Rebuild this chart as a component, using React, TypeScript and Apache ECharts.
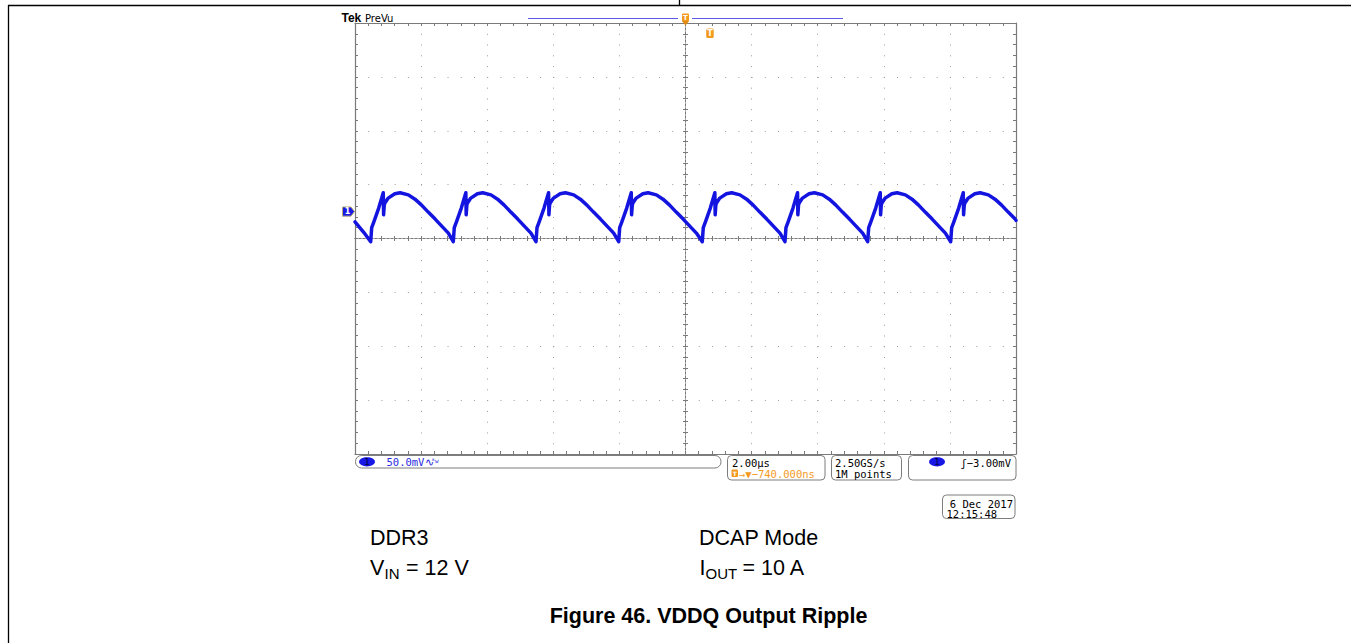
import React, { useEffect, useRef } from "react";
import * as echarts from "echarts";

// Time (µs, 2 µs/div, screen centre = 0) and VDDQ ripple (mV, 50 mV/div, screen centre = 0)
const timeUs: number[] = [
  -10, -9.73,
  -9.525, -9.495, -9.435, -9.285, -9.145, -9.135, -9.115, -9.095, -8.995, -8.795, -8.635, -8.385, -8.185, -7.985, -7.785, -7.575, -7.375, -7.175,
  -7.026, -6.996, -6.936, -6.786, -6.646, -6.636, -6.616, -6.596, -6.496, -6.296, -6.136, -5.886, -5.686, -5.486, -5.286, -5.076, -4.876, -4.676,
  -4.523, -4.493, -4.433, -4.283, -4.143, -4.133, -4.113, -4.093, -3.993, -3.793, -3.633, -3.383, -3.183, -2.983, -2.783, -2.573, -2.373, -2.173,
  -2.021, -1.991, -1.931, -1.781, -1.641, -1.631, -1.611, -1.591, -1.491, -1.291, -1.131, -0.881, -0.681, -0.481, -0.281, -0.071, 0.129, 0.329,
  0.508, 0.538, 0.598, 0.748, 0.888, 0.898, 0.918, 0.938, 1.038, 1.238, 1.398, 1.648, 1.848, 2.048, 2.248, 2.458, 2.658, 2.858,
  3.01, 3.04, 3.1, 3.25, 3.39, 3.4, 3.42, 3.44, 3.54, 3.74, 3.9, 4.15, 4.35, 4.55, 4.75, 4.96, 5.16, 5.36,
  5.513, 5.543, 5.603, 5.753, 5.893, 5.903, 5.923, 5.943, 6.043, 6.243, 6.403, 6.653, 6.853, 7.053, 7.253, 7.463, 7.663, 7.863,
  8.024, 8.054, 8.114, 8.264, 8.404, 8.414, 8.434, 8.454, 8.554, 8.754, 8.914, 9.164, 9.364, 9.564, 9.764, 9.974, 10,
];
const rippleMv: number[] = [
  15.5, 5.5,
  -3, 10, 15, 28, 42.5, 22, 31, 33, 37.5, 41.5, 42.5, 40.5, 36.5, 31, 24.5, 18, 11.5, 5,
  -3, 10, 15, 28, 42.5, 22, 31, 33, 37.5, 41.5, 42.5, 40.5, 36.5, 31, 24.5, 18, 11.5, 5,
  -3, 10, 15, 28, 42.5, 22, 31, 33, 37.5, 41.5, 42.5, 40.5, 36.5, 31, 24.5, 18, 11.5, 5,
  -3, 10, 15, 28, 42.5, 22, 31, 33, 37.5, 41.5, 42.5, 40.5, 36.5, 31, 24.5, 18, 11.5, 5,
  -3, 10, 15, 28, 42.5, 22, 31, 33, 37.5, 41.5, 42.5, 40.5, 36.5, 31, 24.5, 18, 11.5, 5,
  -3, 10, 15, 28, 42.5, 22, 31, 33, 37.5, 41.5, 42.5, 40.5, 36.5, 31, 24.5, 18, 11.5, 5,
  -3, 10, 15, 28, 42.5, 22, 31, 33, 37.5, 41.5, 42.5, 40.5, 36.5, 31, 24.5, 18, 11.5, 5,
  -3, 10, 15, 28, 42.5, 22, 31, 33, 37.5, 41.5, 42.5, 40.5, 36.5, 31, 24.5, 18, 16.8,
];

const xMin = -10;
const xMax = 10;
const xDiv = 2;
const yMin = -200;
const yMax = 200;
const yDiv = 50;
const ch1GroundMv = 25;

const scopeLabels = {
  brand: "Tek",
  mode: "PreVu",
  ch1Scale: "50.0mV",
  timebase: "2.00µs",
  trigPos: "→▼−740.000ns",
  sampleRate: "2.50GS/s",
  recordLen: "1M points",
  trigLevel: "ʃ−3.00mV",
  date: "6 Dec 2017",
  time: "12:15:48",
};

const G = { left: 355, top: 23, width: 661, height: 431 };
const AX = "#7a7a7a";
const DOT = "#9c9c9c";
const ORANGE = "#f39a1e";
const MONO = '10.5px "DejaVu Sans Mono"';
const SANS = '"Liberation Sans", Arial, sans-serif';

function borderX(position: string, withSplit: boolean) {
  return {
    type: "value",
    min: xMin,
    max: xMax,
    interval: xDiv,
    position,
    axisLabel: { show: false },
    axisLine: { show: true, onZero: false, lineStyle: { color: AX, width: 1.2 } },
    axisTick: { show: true, inside: true, length: 3, lineStyle: { color: AX } },
    minorTick: { show: true, splitNumber: 5, length: 3, lineStyle: { color: AX } },
    splitLine: {
      show: withSplit,
      lineStyle: { color: DOT, width: 1, type: [1, G.height / 8 / 5 - 1] },
    },
  };
}
function borderY(position: string, withSplit: boolean) {
  return {
    type: "value",
    min: yMin,
    max: yMax,
    interval: yDiv,
    position,
    axisLabel: { show: false },
    axisLine: { show: true, onZero: false, lineStyle: { color: AX, width: 1.2 } },
    axisTick: { show: true, inside: true, length: 3, lineStyle: { color: AX } },
    minorTick: { show: true, splitNumber: 5, length: 3, lineStyle: { color: AX } },
    splitLine: {
      show: withSplit,
      lineStyle: { color: DOT, width: 1, type: [1, G.width / 10 / 5 - 1] },
    },
  };
}
function centerX(position: string) {
  return {
    type: "value",
    min: xMin,
    max: xMax,
    interval: xDiv,
    position,
    axisLabel: { show: false },
    axisLine: { show: true, onZero: true, onZeroAxisIndex: 0, lineStyle: { color: AX, width: 1, type: [2, 2] } },
    axisTick: { show: true, inside: false, length: 2.5, lineStyle: { color: AX } },
    minorTick: { show: true, splitNumber: 5, length: 2.5, lineStyle: { color: AX } },
    splitLine: { show: false },
  };
}
function centerY(position: string) {
  return {
    type: "value",
    min: yMin,
    max: yMax,
    interval: yDiv,
    position,
    axisLabel: { show: false },
    axisLine: { show: true, onZero: true, onZeroAxisIndex: 0, lineStyle: { color: AX, width: 1, type: [2, 2] } },
    axisTick: { show: true, inside: false, length: 2.5, lineStyle: { color: AX } },
    minorTick: { show: true, splitNumber: 5, length: 2.5, lineStyle: { color: AX } },
    splitLine: { show: false },
  };
}

function txt(text: string, x: number, y: number, font: string, fill: string, align = "left", z = 50) {
  return { type: "text", x, y, z, silent: true, style: { text, font, fill, align, verticalAlign: "middle" } };
}
function box(x: number, y: number, w: number, h: number, r: number) {
  return {
    type: "rect",
    z: 40,
    silent: true,
    shape: { x, y, width: w, height: h, r },
    style: { fill: "#ffffff", stroke: "#7d7d7d", lineWidth: 1 },
  };
}

export default function App() {
  const ref = useRef<HTMLDivElement>(null);

  useEffect(() => {
    if (!ref.current) return;
    const chart = echarts.init(ref.current, null, { renderer: "svg" });
    const groundY = G.top + ((yMax - ch1GroundMv) / (yMax - yMin)) * G.height;
    const centerPx = G.left + G.width / 2;
    const trigPx = centerPx + (0.74 / (xMax - xMin)) * G.width;

    const graphic: any[] = [
      // page frame
      { type: "line", silent: true, shape: { x1: 8, y1: 5.5, x2: 1351, y2: 5.5 }, style: { stroke: "#000", lineWidth: 1.3 } },
      { type: "line", silent: true, shape: { x1: 8.5, y1: 5, x2: 8.5, y2: 643 }, style: { stroke: "#000", lineWidth: 1.3 } },
      { type: "line", silent: true, shape: { x1: 679.5, y1: 0, x2: 679.5, y2: 5 }, style: { stroke: "#000", lineWidth: 1.3 } },
      // header
      txt(scopeLabels.brand, 341.5, 18, `bold 12px ${SANS}`, "#000"),
      txt(scopeLabels.mode, 365, 18.5, '10px "DejaVu Sans"', "#000"),
      { type: "line", silent: true, shape: { x1: 528, y1: 18.5, x2: 678, y2: 18.5 }, style: { stroke: "#5a5ae6", lineWidth: 1 } },
      { type: "line", silent: true, shape: { x1: 692, y1: 18.5, x2: 843, y2: 18.5 }, style: { stroke: "#5a5ae6", lineWidth: 1 } },
      // trigger position marker (top)
      { type: "rect", z: 60, silent: true, shape: { x: centerPx - 3.5, y: 13.5, width: 7, height: 8, r: 1 }, style: { fill: ORANGE } },
      { type: "polygon", z: 60, silent: true, shape: { points: [[centerPx - 3.5, 21], [centerPx + 3.5, 21], [centerPx, 25.5]] }, style: { fill: "#e08a10" } },
      txt("T", centerPx, 17.8, 'bold 7px "DejaVu Sans"', "#fff", "center", 61),
      // trigger point marker
      { type: "rect", z: 60, silent: true, shape: { x: trigPx - 3.75, y: 28.5, width: 7.5, height: 9.5, r: 1.5 }, style: { fill: ORANGE } },
      txt("T", trigPx, 33.3, 'bold 8px "DejaVu Sans"', "#fff", "center", 61),
      // channel 1 ground marker
      {
        type: "polygon",
        z: 60,
        silent: true,
        shape: { points: [[342.5, groundY - 4.6], [351, groundY - 4.6], [354.5, groundY], [351, groundY + 4.6], [342.5, groundY + 4.6]] },
        style: { fill: "#1a1ae6", stroke: "#b8b070", lineWidth: 1 },
      },
      txt("1", 347.5, groundY + 0.3, 'bold 8px "DejaVu Sans"', "#fff", "center", 61),
      // status bar
      box(355.5, 455.5, 365.5, 12.5, 6),
      { type: "ellipse", z: 45, silent: true, shape: { cx: 367, cy: 461.8, rx: 8, ry: 4.6 }, style: { fill: "#1818e6" } },
      txt("1", 367, 462, '9px "DejaVu Sans Mono"', "#00003c", "center"),
      txt(scopeLabels.ch1Scale, 386.5, 462, MONO, "#2a2ae0"),
      txt("∿", 425, 461.5, MONO, "#2a2ae0"),
      txt("ᴮw", 431.5, 460.5, '6px "DejaVu Sans Mono"', "#2a2ae0"),

      box(727.5, 455.5, 97.5, 24.5, 4),
      txt(scopeLabels.timebase, 732, 462.5, MONO, "#000"),
      { type: "rect", z: 45, silent: true, shape: { x: 731.5, y: 469.5, width: 6.5, height: 7.5, r: 1 }, style: { fill: ORANGE } },
      txt("T", 734.75, 473.3, 'bold 6px "DejaVu Sans"', "#fff", "center", 46),
      txt(scopeLabels.trigPos, 739, 473.5, MONO, ORANGE),

      box(831.5, 455.5, 70, 24.5, 4),
      txt(scopeLabels.sampleRate, 835, 462.5, MONO, "#000"),
      txt(scopeLabels.recordLen, 835, 473.5, MONO, "#000"),

      box(908.5, 455.5, 107.5, 24.5, 4),
      { type: "ellipse", z: 45, silent: true, shape: { cx: 937, cy: 461.8, rx: 8, ry: 4.6 }, style: { fill: "#1818e6" } },
      txt("1", 937, 462, '9px "DejaVu Sans Mono"', "#00003c", "center"),
      txt(scopeLabels.trigLevel, 1011, 462.5, MONO, "#000", "right"),

      box(942.5, 495, 72.5, 23.5, 4),
      txt(scopeLabels.date, 1013, 503.5, MONO, "#000", "right"),
      txt(scopeLabels.time, 946.5, 513.5, MONO, "#000"),

      // conditions & caption
      txt("DDR3", 370, 538, `21.5px ${SANS}`, "#000"),
      txt("DCAP Mode", 699, 538, `21.5px ${SANS}`, "#000"),
      txt("V", 370, 568, `21.5px ${SANS}`, "#000"),
      txt("IN", 384.5, 573, `15px ${SANS}`, "#000"),
      txt("= 12 V", 406, 568, `21.5px ${SANS}`, "#000"),
      txt("I", 699.5, 568, `21.5px ${SANS}`, "#000"),
      txt("OUT", 705.5, 573, `15px ${SANS}`, "#000"),
      txt("= 10 A", 742.5, 568, `21.5px ${SANS}`, "#000"),
      txt("Figure 46. VDDQ Output Ripple", 708.5, 616, `bold 21.5px ${SANS}`, "#000", "center"),
    ];

    chart.setOption({
      animation: false,
      backgroundColor: "#ffffff",
      grid: { left: G.left, top: G.top, width: G.width, height: G.height, containLabel: false },
      xAxis: [borderX("bottom", true), borderX("top", false), centerX("bottom"), centerX("top")],
      yAxis: [borderY("left", true), borderY("right", false), centerY("left"), centerY("right")],
      series: [
        {
          type: "line",
          xAxisIndex: 0,
          yAxisIndex: 0,
          data: timeUs.map((t, i) => [t, rippleMv[i]]),
          showSymbol: false,
          symbol: "none",
          z: 10,
          lineStyle: { color: "#1414e0", width: 3.5, join: "round", cap: "round" },
        },
      ],
      graphic,
    });
    return () => chart.dispose();
  }, []);

  return <div ref={ref} style={{ position: "fixed", left: 0, top: 0, width: 1351, height: 643, background: "#fff" }} />;
}
